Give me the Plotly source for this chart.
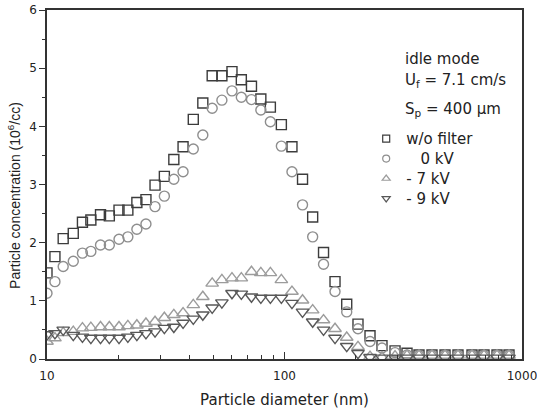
import plotly.graph_objects as go

# Particle diameters (nm)
diameter = [10.0, 10.8, 11.7, 12.9, 14.1, 15.3, 16.8, 18.3, 20.1, 21.9, 23.9, 26.1, 28.5,
            31.2, 34.2, 37.4, 41.3, 45.3, 49.6, 54.5, 60.1, 65.8, 72.6, 79.5, 87.2, 97.0,
            107.5, 119.1, 131.4, 146.0, 163.2, 182.8, 203.9, 229.1, 257.3, 292.0, 328.0,
            368.4, 417.9, 474.1, 537.7, 615.9, 691.8, 784.8, 881.6]

# Particle concentration (10^6/cc)
wo_filter = [1.48, 1.76, 2.07, 2.16, 2.35, 2.39, 2.48, 2.46, 2.56, 2.56, 2.69, 2.74, 2.99,
             3.14, 3.43, 3.65, 4.12, 4.40, 4.87, 4.87, 4.94, 4.80, 4.69, 4.47, 4.33, 4.03,
             3.65, 3.09, 2.44, 1.83, 1.33, 0.94, 0.60, 0.40, 0.23, 0.14, 0.10, 0.07, 0.07,
             0.07, 0.07, 0.07, 0.07, 0.07, 0.07]
kv_0 = [1.13, 1.33, 1.59, 1.68, 1.82, 1.85, 1.96, 1.96, 2.06, 2.10, 2.23, 2.32, 2.62,
        2.80, 3.09, 3.22, 3.61, 3.85, 4.31, 4.45, 4.61, 4.50, 4.46, 4.28, 4.08, 3.66,
        3.22, 2.65, 2.10, 1.63, 1.16, 0.81, 0.52, 0.30, 0.19, 0.11, 0.07, 0.06, 0.06,
        0.06, 0.06, 0.06, 0.06, 0.06, 0.06]
kv_7 = [0.30, 0.36, 0.45, 0.47, 0.53, 0.54, 0.55, 0.55, 0.55, 0.57, 0.58, 0.61, 0.64,
        0.71, 0.76, 0.79, 0.93, 1.07, 1.30, 1.36, 1.39, 1.39, 1.50, 1.48, 1.48, 1.36,
        1.16, 1.01, 0.84, 0.67, 0.52, 0.37, 0.21, 0.04, 0.03, 0.05, 0.06, 0.06, 0.06,
        0.06, 0.06, 0.06, 0.06, 0.06, 0.06]
kv_9 = [0.42, 0.44, 0.50, 0.41, 0.38, 0.36, 0.36, 0.36, 0.36, 0.38, 0.41, 0.44, 0.47,
        0.53, 0.55, 0.62, 0.69, 0.76, 0.88, 0.97, 1.13, 1.12, 1.07, 1.05, 1.05, 1.05,
        0.96, 0.81, 0.64, 0.50, 0.36, 0.22, 0.10, 0.03, 0.02, 0.02, 0.02, 0.02, 0.02,
        0.02, 0.02, 0.02, 0.02, 0.02, 0.02]

series_names = ["w/o filter", "\u00a0\u00a0\u00a00 kV", "- 7 kV", "- 9 kV"]
series_values = [wo_filter, kv_0, kv_7, kv_9]
symbols = ["square-open", "circle-open", "triangle-up-open", "triangle-down-open"]
colors = ["#3c3c3c", "#8e8e8e", "#9c9c9c", "#585858"]
sizes = [10, 10, 11, 11]

x_tickvals = [10, 100, 1000]
x_ticktext = ["10", "100", "1000"]
x_minor = [m * 10 ** e for e in (1, 2) for m in range(2, 10)]
y_tickvals = [0, 1, 2, 3, 4, 5, 6]
y_minor = [0.5, 1.5, 2.5, 3.5, 4.5, 5.5]

wide_font = "DejaVu Sans, Verdana, sans-serif"
narrow_font = "Liberation Sans, Arial, sans-serif"
axis_color = "#333333"
text_color = "#222222"

fig = go.Figure()
for name, vals, sym, col, sz in zip(series_names, series_values, symbols, colors, sizes):
    fig.add_trace(go.Scatter(
        x=diameter, y=vals, mode="markers", showlegend=False,
        marker=dict(symbol=sym, size=sz, color=col, line=dict(width=1.4, color=col)),
    ))
    # legend-only entry with a smaller symbol
    fig.add_trace(go.Scatter(
        x=[None], y=[None], mode="markers",
        name="<span style='font-size:15px'>" + name + "</span>",
        marker=dict(symbol=sym, size=7, color=col, line=dict(width=1.2, color=col)),
    ))

fig.update_layout(
    width=537, height=413,
    margin=dict(l=47, r=15, t=10, b=54),
    paper_bgcolor="white", plot_bgcolor="white",
    font=dict(family=wide_font, size=13, color=text_color),
    showlegend=True,
    legend=dict(
        x=0.672, y=0.674, xanchor="left", yanchor="top",
        bgcolor="rgba(0,0,0,0)", font=dict(family=wide_font, size=13, color=text_color),
        itemsizing="trace", tracegroupgap=0,
    ),
    xaxis=dict(
        type="log", range=[1, 3], automargin=False,
        tickvals=x_tickvals, ticktext=x_ticktext,
        ticks="inside", ticklen=7, tickwidth=1.3, tickcolor=axis_color,
        minor=dict(tickvals=x_minor, ticks="inside", ticklen=4, tickwidth=1.1,
                   tickcolor=axis_color, showgrid=False),
        showline=True, linecolor=axis_color, linewidth=1.5, mirror=True,
        showgrid=False, zeroline=False,
        ticklabelstandoff=5, ticklabeloverflow="allow",
        title=dict(text="Particle diameter (nm)", font=dict(family=wide_font, size=15), standoff=12),
        tickfont=dict(family=wide_font, size=12),
    ),
    yaxis=dict(
        range=[0, 6], automargin=False,
        tickvals=y_tickvals,
        ticks="outside", ticklen=6, tickwidth=1.3, tickcolor=axis_color,
        minor=dict(tickvals=y_minor, ticks="outside", ticklen=3, tickwidth=1.1,
                   tickcolor=axis_color, showgrid=False),
        showline=True, linecolor=axis_color, linewidth=1.5, mirror=True,
        showgrid=False, zeroline=False,
        ticklabeloverflow="allow",
        tickfont=dict(family=wide_font, size=12),
    ),
)

# y-axis title (as rotated annotation to match its vertical placement)
fig.add_annotation(text="Particle concentration (10<sup>6</sup>/cc)",
                   xref="paper", yref="paper", x=-0.0695, y=0.47,
                   xanchor="center", yanchor="middle", textangle=-90, showarrow=False,
                   font=dict(family=narrow_font, size=14, color=text_color))

notes = ["idle mode", "U<sub>f</sub> = 7.1 cm/s", "S<sub>p</sub> = 400 \u03bcm"]
note_y = [0.860, 0.799, 0.716]
for txt, yy in zip(notes, note_y):
    fig.add_annotation(text=txt, xref="paper", yref="paper", x=0.75, y=yy,
                       xanchor="left", yanchor="middle", showarrow=False,
                       font=dict(family=wide_font, size=15, color=text_color))

fig.write_html("out.html", config={"displayModeBar": False},
               post_script="document.body.style.margin='0';")
